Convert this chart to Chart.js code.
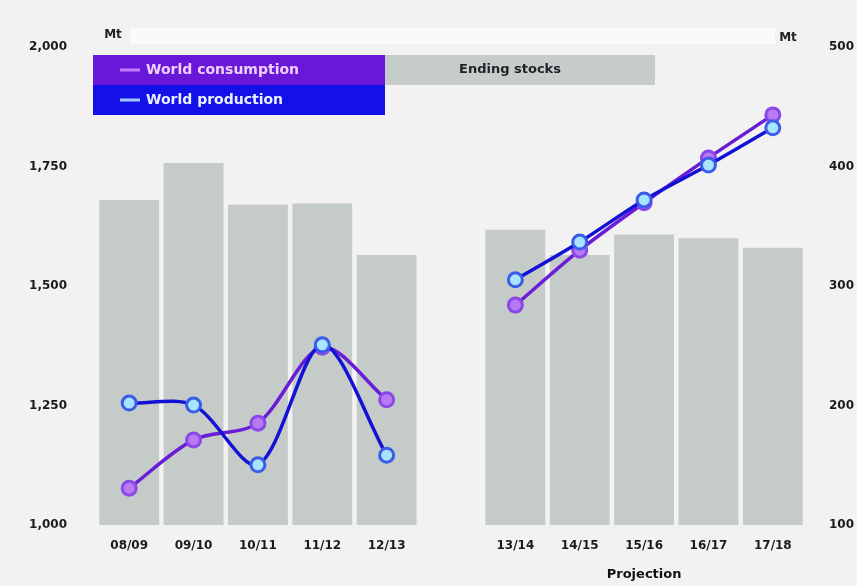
<!DOCTYPE html>
<html>
<head>
<meta charset="utf-8">
<script src="https://cdn.jsdelivr.net/npm/chart.js@4"></script>
<style>
  html, body { margin: 0; padding: 0; background: #f2f2f2; }
  #wrap { width: 857px; height: 586px; }
</style>
</head>
<body>
<div id="wrap"><canvas id="chart" width="857" height="586"></canvas></div>
<script>
// seasons, with an empty slot between history and projection
const seasons = ["08/09", "09/10", "10/11", "11/12", "12/13", "", "13/14", "14/15", "15/16", "16/17", "17/18"];
const consumption = [1077, 1178, 1213, 1372, 1262, null, 1460, 1575, 1674, 1768, 1858];
const production = [1255, 1251, 1126, 1377, 1146, null, 1513, 1592, 1680, 1753, 1831];
const stocks = [372, 403, 368, 369, 326, null, 347, 326, 343, 340, 332];
const leftTicks = [1000, 1250, 1500, 1750, 2000];
const rightTicks = [100, 200, 300, 400, 500];

const tickFont = { family: "DejaVu Sans", size: 12, weight: "bold" };

// legend boxes + unit labels + "Projection" caption
const extras = {
  id: "extras",
  afterDraw(chart) {
    const ctx = chart.ctx;
    const x = chart.scales.x;
    ctx.save();

    ctx.fillStyle = "#fafafa";
    ctx.fillRect(130, 28, 645, 16);

    ctx.font = "bold 12px DejaVu Sans";
    ctx.fillStyle = "#222";
    ctx.textBaseline = "middle";
    ctx.textAlign = "center";
    ctx.fillText("Mt", 113, 35);
    ctx.fillText("Mt", 788, 38);

    // line series legend
    const rows = [
      { label: "World consumption", bg: "#6a18d8", fg: "#f0d0ff", line: "#c080ff", y: 55 },
      { label: "World production", bg: "#1410e8", fg: "#e8f0ff", line: "#a0c8ff", y: 85 }
    ];
    rows.forEach(r => {
      ctx.fillStyle = r.bg;
      ctx.fillRect(93, r.y, 292, 30);
      ctx.strokeStyle = r.line;
      ctx.lineWidth = 3;
      ctx.beginPath();
      ctx.moveTo(120, r.y + 15);
      ctx.lineTo(140, r.y + 15);
      ctx.stroke();
      ctx.font = "bold 14px DejaVu Sans";
      ctx.fillStyle = r.fg;
      ctx.textAlign = "left";
      ctx.fillText(r.label, 146, r.y + 15);
    });

    // bar series legend
    ctx.fillStyle = "#c6ccc9";
    ctx.fillRect(385, 55, 270, 30);
    ctx.fillStyle = "#1c2428";
    ctx.font = "bold 13px DejaVu Sans";
    ctx.textAlign = "center";
    ctx.fillText("Ending stocks", 510, 70);

    // caption under the projected seasons
    ctx.font = "bold 13px DejaVu Sans";
    ctx.fillStyle = "#111";
    ctx.fillText("Projection", x.getPixelForValue(8), 575);
    ctx.restore();
  }
};

new Chart(document.getElementById("chart"), {
  data: {
    labels: seasons,
    datasets: [
      {
        type: "line",
        label: "World consumption",
        data: consumption,
        yAxisID: "y",
        borderColor: "#6a1cd6",
        borderWidth: 3.5,
        tension: 0.3,
        pointRadius: 7,
        pointBorderWidth: 3,
        pointBackgroundColor: "#b87af2",
        pointBorderColor: "#8a48e8",
        spanGaps: false,
        order: 1
      },
      {
        type: "line",
        label: "World production",
        data: production,
        yAxisID: "y",
        borderColor: "#1212d4",
        borderWidth: 3.5,
        tension: 0.3,
        pointRadius: 7,
        pointBorderWidth: 3,
        pointBackgroundColor: "#a8e4ff",
        pointBorderColor: "#3a5ce8",
        spanGaps: false,
        order: 0
      },
      {
        type: "bar",
        label: "Ending stocks",
        data: stocks,
        yAxisID: "y1",
        backgroundColor: "#c5cbc8",
        barPercentage: 0.93,
        categoryPercentage: 1,
        order: 2
      }
    ]
  },
  options: {
    responsive: false,
    animation: false,
    layout: { padding: { top: 47, right: 0, left: 0, bottom: 0 } },
    plugins: {
      legend: { display: false },
      tooltip: { enabled: false }
    },
    scales: {
      x: {
        grid: { display: false },
        border: { display: false },
        ticks: { font: tickFont, color: "#1a1a1a", padding: 6, maxRotation: 0, autoSkip: false },
        afterFit(s) { s.height = 61; }
      },
      y: {
        position: "left",
        min: 1000,
        max: 2000,
        grid: { display: false },
        border: { display: false },
        afterBuildTicks(s) { s.ticks = leftTicks.map(v => ({ value: v })); },
        ticks: {
          font: tickFont,
          color: "#1a1a1a",
          padding: 22,
          callback: v => v.toLocaleString("en-US")
        },
        afterFit(s) { s.width = 97; }
      },
      y1: {
        position: "right",
        min: 100,
        max: 500,
        grid: { display: false },
        border: { display: false },
        afterBuildTicks(s) { s.ticks = rightTicks.map(v => ({ value: v })); },
        ticks: { font: tickFont, color: "#1a1a1a", padding: 16 },
        afterFit(s) { s.width = 52; }
      }
    }
  },
  plugins: [extras]
});
</script>
</body>
</html>
